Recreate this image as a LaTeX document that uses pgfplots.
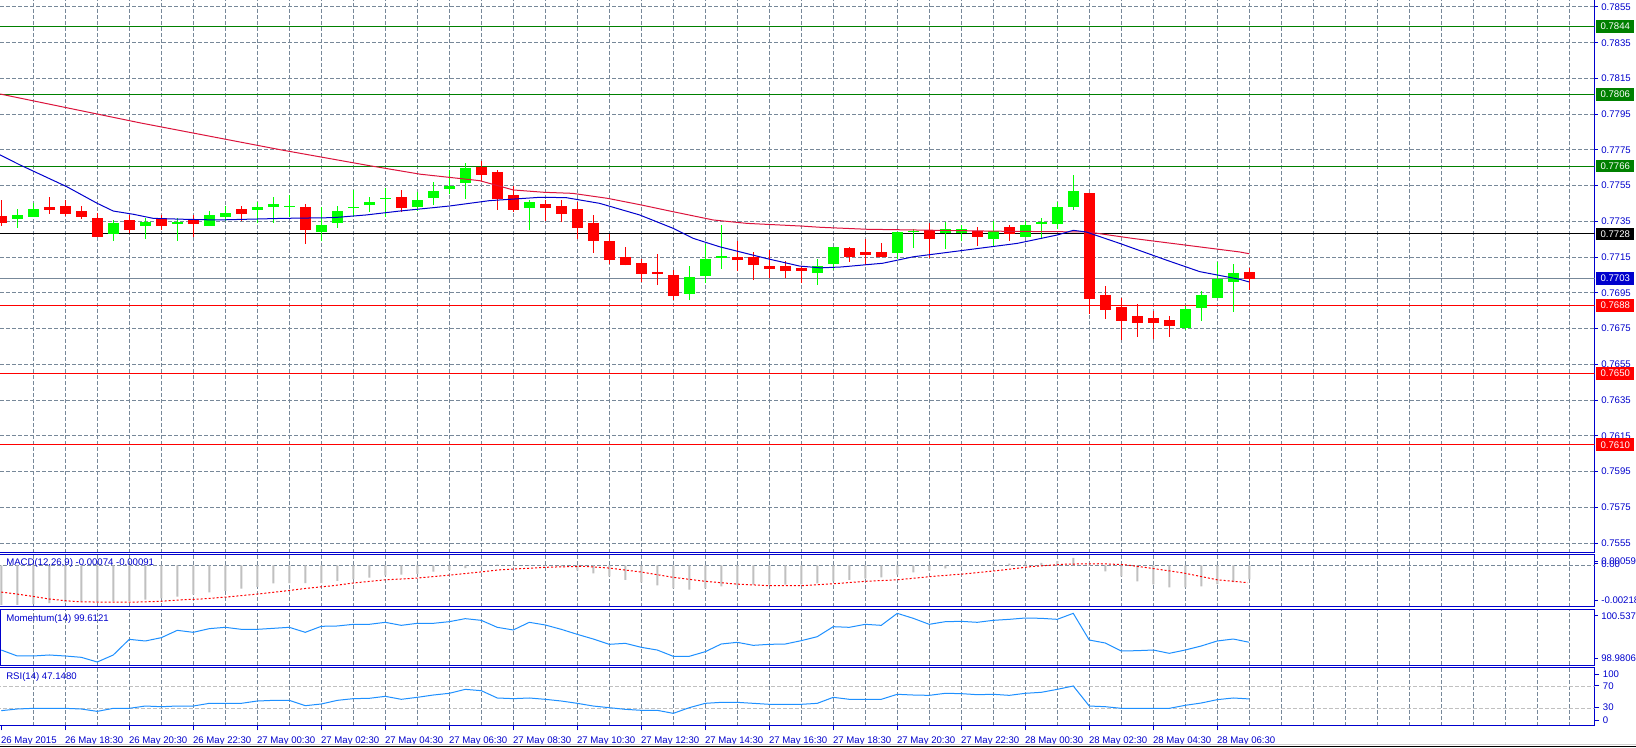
\documentclass[border=0pt]{standalone}
\usepackage{fontspec}
\setmainfont{Liberation Sans}
\usepackage{pgfplots}
\usepackage{pgfplotstable}
\pgfplotsset{compat=1.18}

\definecolor{axblue}{RGB}{0,0,205}
\definecolor{gridc}{RGB}{119,136,153}
\definecolor{bull}{RGB}{0,255,0}
\definecolor{bear}{RGB}{255,0,0}
\definecolor{lvlgreen}{RGB}{0,128,0}
\definecolor{tagblue}{RGB}{0,0,205}
\definecolor{maBlue}{RGB}{0,0,205}
\definecolor{maRed}{RGB}{220,20,60}
\definecolor{dodger}{RGB}{30,144,255}
\definecolor{silverc}{RGB}{192,192,192}
\definecolor{bidgray}{RGB}{119,136,153}

\newcommand{\lbl}{\fontsize{7.2}{8.5}\selectfont}

% M30 candles, k = bar index (k=0 is 26 May 16:30)
\pgfplotstableread{
k O H L C
1 0.77364 0.77420 0.77315 0.77386
2 0.77377 0.77451 0.77375 0.77420
7 0.77280 0.77358 0.77242 0.77343
9 0.77325 0.77371 0.77254 0.77347
11 0.77338 0.77367 0.77242 0.77344
13 0.77326 0.77409 0.77325 0.77386
14 0.77375 0.77437 0.77353 0.77397
16 0.77416 0.77457 0.77339 0.77431
17 0.77433 0.77487 0.77343 0.77448
18 0.77432 0.77498 0.77377 0.77438
20 0.77293 0.77431 0.77242 0.77330
21 0.77343 0.77437 0.77315 0.77409
22 0.77426 0.77526 0.77377 0.77432
23 0.77444 0.77487 0.77403 0.77459
24 0.77476 0.77537 0.77377 0.77482
26 0.77433 0.77513 0.77410 0.77470
27 0.77483 0.77571 0.77442 0.77520
28 0.77534 0.77638 0.77506 0.77548
29 0.77567 0.77677 0.77476 0.77649
33 0.77425 0.77470 0.77302 0.77459
43 0.76944 0.77101 0.76910 0.77039
44 0.77045 0.77224 0.77005 0.77140
45 0.77147 0.77330 0.77084 0.77157
51 0.77061 0.77140 0.76994 0.77101
52 0.77114 0.77209 0.77078 0.77207
56 0.77173 0.77293 0.77140 0.77291
57 0.77290 0.77308 0.77201 0.77296
59 0.77285 0.77347 0.77196 0.77308
60 0.77285 0.77330 0.77242 0.77308
62 0.77252 0.77353 0.77213 0.77297
64 0.77263 0.77353 0.77261 0.77330
65 0.77336 0.77369 0.77254 0.77347
66 0.77336 0.77459 0.77308 0.77431
67 0.77431 0.77610 0.77414 0.77520
74 0.76755 0.76877 0.76742 0.76860
75 0.76867 0.76961 0.76793 0.76938
76 0.76923 0.77123 0.76921 0.77028
77 0.77013 0.77112 0.76845 0.77061
}\bullbars

\pgfplotstableread{
k O H L C
0 0.77381 0.77470 0.77325 0.77343
3 0.77431 0.77487 0.77394 0.77414
4 0.77437 0.77470 0.77379 0.77394
5 0.77409 0.77437 0.77366 0.77377
6 0.77369 0.77397 0.77263 0.77265
8 0.77358 0.77384 0.77283 0.77304
10 0.77369 0.77384 0.77304 0.77326
12 0.77358 0.77386 0.77265 0.77338
15 0.77420 0.77437 0.77354 0.77394
19 0.77431 0.77448 0.77226 0.77304
25 0.77487 0.77526 0.77405 0.77427
30 0.77657 0.77690 0.77578 0.77612
31 0.77627 0.77638 0.77414 0.77476
32 0.77498 0.77550 0.77403 0.77414
34 0.77448 0.77470 0.77353 0.77425
35 0.77437 0.77470 0.77347 0.77392
36 0.77420 0.77459 0.77250 0.77313
37 0.77341 0.77386 0.77175 0.77241
38 0.77241 0.77278 0.77112 0.77134
39 0.77151 0.77207 0.77104 0.77106
40 0.77117 0.77140 0.77011 0.77056
41 0.77067 0.77168 0.76994 0.77058
42 0.77050 0.77078 0.76910 0.76933
46 0.77151 0.77241 0.77073 0.77134
47 0.77151 0.77179 0.77022 0.77106
48 0.77101 0.77190 0.77033 0.77084
49 0.77101 0.77129 0.77033 0.77073
50 0.77091 0.77101 0.77005 0.77073
53 0.77201 0.77207 0.77125 0.77151
54 0.77179 0.77250 0.77106 0.77162
55 0.77179 0.77229 0.77149 0.77151
58 0.77302 0.77341 0.77145 0.77252
61 0.77297 0.77319 0.77213 0.77263
63 0.77319 0.77330 0.77241 0.77280
68 0.77509 0.77511 0.76832 0.76916
69 0.76938 0.76989 0.76804 0.76856
70 0.76871 0.76921 0.76686 0.76795
71 0.76821 0.76888 0.76705 0.76783
72 0.76810 0.76851 0.76694 0.76783
73 0.76798 0.76821 0.76705 0.76767
78 0.77067 0.77089 0.76968 0.77030
}\bearbars

% indicators per bar: MACD main, Momentum(14), RSI(14)
\pgfplotstableread{
k macd mom rsi
0 -0.00208 99.397 25.8
1 -0.00208 99.231 28.8
2 -0.00204 99.231 30.0
3 -0.00199 99.259 30.0
4 -0.00195 99.231 30.0
5 -0.00192 99.194 28.8
6 -0.00194 99.064 24.5
7 -0.00190 99.259 30.0
8 -0.00187 99.694 30.0
9 -0.00181 99.648 34.2
10 -0.00174 99.740 33.0
11 -0.00165 99.944 34.2
12 -0.00153 99.889 34.2
13 -0.00143 99.991 39.1
14 -0.00134 100.028 39.1
15 -0.00123 99.972 39.1
16 -0.00113 99.972 43.3
17 -0.00095 100.000 44.5
18 -0.00093 100.028 44.5
19 -0.00093 99.889 34.8
20 -0.00093 100.056 37.9
21 -0.00081 100.065 44.5
22 -0.00074 100.111 47.6
23 -0.00065 100.111 48.2
24 -0.00053 100.167 51.8
25 -0.00048 100.083 46.4
26 -0.00044 100.139 50.0
27 -0.00033 100.139 54.2
28 -0.00025 100.185 57.3
29 -0.00014 100.269 64.5
30 -0.00005 100.222 62.1
31 0.00004 100.028 48.8
32 0.00003 99.954 47.6
33 0.00002 100.167 48.8
34 -0.00001 100.093 46.4
35 -0.00005 99.972 43.3
36 -0.00026 99.833 39.1
37 -0.00042 99.703 34.2
38 -0.00058 99.555 31.2
39 -0.00076 99.583 28.2
40 -0.00090 99.472 26.4
41 -0.00106 99.397 26.4
42 -0.00121 99.222 20.9
43 -0.00128 99.222 31.2
44 -0.00121 99.351 39.1
45 -0.00111 99.564 40.9
46 -0.00106 99.611 40.9
47 -0.00102 99.527 39.1
48 -0.00102 99.555 37.3
49 -0.00102 99.564 37.3
50 -0.00100 99.657 37.3
51 -0.00095 99.768 39.1
52 -0.00084 100.046 50.0
53 -0.00076 100.028 46.4
54 -0.00070 100.111 46.4
55 -0.00063 100.083 46.4
56 -0.00048 100.417 55.5
57 -0.00037 100.278 54.2
58 -0.00028 100.111 53.6
59 -0.00016 100.185 57.3
60 -0.00005 100.194 56.7
61 0.00002 100.167 54.8
62 0.00009 100.222 55.5
63 0.00009 100.250 53.6
64 0.00011 100.287 57.3
65 0.00014 100.278 59.1
66 0.00023 100.250 64.5
67 0.00040 100.417 70.6
68 -0.00002 99.675 34.2
69 -0.00032 99.592 33.0
70 -0.00058 99.370 30.0
71 -0.00084 99.379 30.0
72 -0.00100 99.397 30.0
73 -0.00116 99.305 30.0
74 -0.00116 99.397 35.5
75 -0.00111 99.509 39.7
76 -0.00099 99.648 45.8
77 -0.00088 99.703 48.8
78 -0.00074 99.612 47.1
}\ind

\pgfplotsset{
  mt/.style={
    scale only axis, width=1196pt,
    xmin=-0.08, xmax=99.59,
    axis line style={axblue, line width=0.75pt},
    tick align=outside, major tick length=2.25pt,
    tick style={axblue, line width=0.75pt},
    ytick pos=right, yticklabel pos=right, xtick pos=bottom,
    yticklabel style={font=\lbl, text=axblue, anchor=west, inner sep=0pt, xshift=2.5pt},
    grid style={gridc, line width=0.75pt, dash pattern=on 3pt off 1.5pt},
    scaled y ticks=false,
  },
  plainx/.style={xtick={2,4,...,98}, xticklabels={}, xmajorgrids, xtick style={draw=none}},
  wick/.style={draw=none, no markers, error bars/.cd, y dir=plus, y explicit,
    error mark=none, error bar style={line width=1pt, draw=#1, solid}},
  body/.style={draw=none, no markers, error bars/.cd, y dir=plus, y explicit,
    error mark=none, error bar style={line width=8.25pt, draw=#1, solid}},
}

\begin{document}
\begin{tikzpicture}
\fill[white] (0,0) rectangle (1227pt,-561pt);
\useasboundingbox (0,0) rectangle (1227pt,-561pt);

% main price panel
\begin{axis}[mt, plainx, at={(0pt,0pt)}, anchor=north west, height=414.4pt,
  ymin=0.75497, ymax=0.78589, ymajorgrids,
  ytick={0.7555,0.7575,0.7595,0.7615,0.7635,0.7655,0.7675,0.7695,0.7715,0.7735,0.7755,0.7775,0.7795,0.7815,0.7835,0.7855},
  yticklabels={0.7555,0.7575,0.7595,0.7615,0.7635,0.7655,0.7675,0.7695,0.7715,0.7735,0.7755,0.7775,0.7795,0.7815,0.7835,0.7855}]
\addplot[lvlgreen, line width=0.75pt] coordinates {(-1,0.7844) (100,0.7844)};
\addplot[lvlgreen, line width=0.75pt] coordinates {(-1,0.7806) (100,0.7806)};
\addplot[lvlgreen, line width=0.75pt] coordinates {(-1,0.7766) (100,0.7766)};
\addplot[black, line width=0.75pt] coordinates {(-1,0.7728) (100,0.7728)};
\addplot[bidgray, line width=0.75pt] coordinates {(-1,0.7703) (100,0.7703)};
\addplot[bear, line width=0.75pt] coordinates {(-1,0.7688) (100,0.7688)};
\addplot[bear, line width=0.75pt] coordinates {(-1,0.7650) (100,0.7650)};
\addplot[bear, line width=0.75pt] coordinates {(-1,0.7610) (100,0.7610)};

\addplot[wick=bear] table[x=k, y=L, y error expr=\thisrow{H}-\thisrow{L}] {\bearbars};
\addplot[wick=bull] table[x=k, y=L, y error expr=\thisrow{H}-\thisrow{L}] {\bullbars};
\addplot[body=bear] table[x=k, y=C, y error expr=\thisrow{O}-\thisrow{C}] {\bearbars};
\addplot[body=bull] table[x=k, y=O, y error expr=\thisrow{C}-\thisrow{O}] {\bullbars};

\addplot[maRed, line width=0.75pt] coordinates {
(-0.08,0.78063) (8.7,0.77901) (17.5,0.77750) (23,0.77662) (26.2,0.77614) (29.9,0.77578)
(32,0.77526) (33.9,0.77513) (35.7,0.77507) (37.9,0.77479) (40,0.77442) (42,0.77404)
(44.5,0.77358) (46.6,0.77339) (50,0.77324) (51.2,0.77317) (54.1,0.77306) (62.4,0.77295)
(67.9,0.77291) (70.7,0.77255) (77.4,0.77179) (78,0.77169)};
\addplot[maBlue, line width=0.75pt] coordinates {
(-0.08,0.77722) (1.17,0.77666) (4.1,0.77544) (6,0.77451) (7,0.77408) (8.25,0.77390)
(9.5,0.77367) (11.4,0.77362) (13.5,0.77358) (17.6,0.77367) (20.75,0.77371) (22.8,0.77386)
(24.9,0.77408) (28,0.77436) (30.5,0.77466) (33.7,0.77485) (35.3,0.77483) (37.4,0.77451)
(39.9,0.77386) (42,0.77311) (43.25,0.77255) (44.9,0.77208) (47.8,0.77143) (49.9,0.77100)
(51.2,0.77090) (52.5,0.77095) (55.1,0.77116) (57,0.77152) (60.3,0.77190) (63.5,0.77227)
(66,0.77274) (67,0.77300) (67.8,0.77291) (69.9,0.77227) (72.8,0.77134) (74.9,0.77069)
(77.4,0.77026) (78,0.77011)};

\coordinate (t7844) at ({rel axis cs:1,0}|-{axis cs:0,0.7844});
\coordinate (t7806) at ({rel axis cs:1,0}|-{axis cs:0,0.7806});
\coordinate (t7766) at ({rel axis cs:1,0}|-{axis cs:0,0.7766});
\coordinate (t7728) at ({rel axis cs:1,0}|-{axis cs:0,0.7728});
\coordinate (t7703) at ({rel axis cs:1,0}|-{axis cs:0,0.7703});
\coordinate (t7688) at ({rel axis cs:1,0}|-{axis cs:0,0.7688});
\coordinate (t7650) at ({rel axis cs:1,0}|-{axis cs:0,0.7650});
\coordinate (t7610) at ({rel axis cs:1,0}|-{axis cs:0,0.7610});
\end{axis}

% MACD
\begin{axis}[mt, plainx, at={(0pt,-415.7pt)}, anchor=north west, height=39.3pt,
  ymin=-0.00218, ymax=0.00059,
  ytick={-0.00186,0.000077,0.000199}, yticklabels={-0.00218,0.00,0.00059}]
\addplot[gridc, line width=0.75pt, dash pattern=on 3pt off 1.5pt] coordinates {(-1,0) (100,0)};
\addplot[ybar, bar width=1.5pt, fill=silverc, draw=none] table[x=k, y=macd] {\ind};
\addplot[bear, line width=0.75pt, dash pattern=on 1.5pt off 1.5pt] coordinates {
(0,-0.00141) (0.96,-0.00151) (2,-0.00164) (3.04,-0.00178) (4.08,-0.00187) (4.92,-0.00192)
(6.17,-0.00194) (8.25,-0.00194) (9.92,-0.00190) (11.38,-0.00181) (12.42,-0.00178)
(14.09,-0.00167) (16.17,-0.00150) (17.84,-0.00134) (19.08,-0.00121) (20.75,-0.00107)
(22,-0.00093) (23.88,-0.00077) (25.96,-0.00067) (28.04,-0.00051) (29.92,-0.00035)
(31.17,-0.00023) (34.3,-0.00009) (36.4,-0.00005) (38,-0.00014) (40,-0.00035) (42,-0.00063)
(44,-0.00084) (46,-0.00099) (48,-0.00107) (50,-0.00107) (52,-0.00097) (54,-0.00084)
(56,-0.00076) (58.2,-0.00058) (60.3,-0.00044) (62.4,-0.00026) (64.5,-0.00005)
(66.6,0.00007) (68.7,0.00009) (70.2,0.00004) (71.8,-0.00014) (73.9,-0.00040)
(76,-0.00076) (77.9,-0.00091)};
\node[anchor=west, font=\lbl, text=axblue, inner sep=0pt, xshift=4.5pt, yshift=-6.8pt]
  at (rel axis cs:0,1) {MACD(12,26,9) -0.00074 -0.00091};
\end{axis}

% Momentum
\begin{axis}[mt, plainx, at={(0pt,-456.75pt)}, anchor=north west, height=42pt,
  ymin=98.9806, ymax=100.5373,
  ytick={99.167,100.343}, yticklabels={98.9806,100.5373}]
\addplot[dodger, line width=0.75pt] table[x=k, y=mom] {\ind};
\node[anchor=west, font=\lbl, text=axblue, inner sep=0pt, xshift=4.5pt, yshift=-7.2pt]
  at (rel axis cs:0,1) {Momentum(14) 99.6121};
\end{axis}

% RSI
\begin{axis}[mt, at={(0pt,-500.5pt)}, anchor=north west, height=43.8pt,
  ymin=-1.6, ymax=104.5,
  ytick={8.7,31.8,71,91.8}, yticklabels={0,30,70,100},
  xtick={0,4,...,76}, major tick length=3.5pt,
  minor xtick={2,4,...,98}, xminorgrids, minor tick length=0pt,
  xticklabels={26 May 2015,26 May 18:30,26 May 20:30,26 May 22:30,27 May 00:30,27 May 02:30,27 May 04:30,27 May 06:30,27 May 08:30,27 May 10:30,27 May 12:30,27 May 14:30,27 May 16:30,27 May 18:30,27 May 20:30,27 May 22:30,28 May 00:30,28 May 02:30,28 May 04:30,28 May 06:30},
  xticklabel style={font=\lbl, text=axblue, anchor=north west, inner sep=0pt, yshift=-4.9pt, xshift=-0.3pt}]
\addplot[silverc, line width=0.75pt, dash pattern=on 3pt off 1.5pt] coordinates {(-1,70) (100,70)};
\addplot[silverc, line width=0.75pt, dash pattern=on 3pt off 1.5pt] coordinates {(-1,30) (100,30)};
\addplot[dodger, line width=0.75pt] table[x=k, y=rsi] {\ind};
\node[anchor=west, font=\lbl, text=axblue, inner sep=0pt, xshift=4.5pt, yshift=-7pt]
  at (rel axis cs:0,1) {RSI(14) 47.1480};
\end{axis}

% price tags
\foreach \p/\c/\t in {t7844/lvlgreen/0.7844, t7806/lvlgreen/0.7806, t7766/lvlgreen/0.7766,
  t7728/black/0.7728, t7703/tagblue/0.7703, t7688/bear/0.7688, t7650/bear/0.7650, t7610/bear/0.7610}
  \node[fill=\c, text=white, font=\lbl, anchor=west, minimum width=28.5pt,
    minimum height=9.6pt, inner sep=0pt, xshift=1pt] at (\p) {\t};

% window bottom
\draw[gray!35, line width=0.75pt] (0,-558pt) -- (1227pt,-558pt);
\draw[black, line width=0.75pt] (0,-560.2pt) -- (1227pt,-560.2pt);
\end{tikzpicture}
\end{document}
